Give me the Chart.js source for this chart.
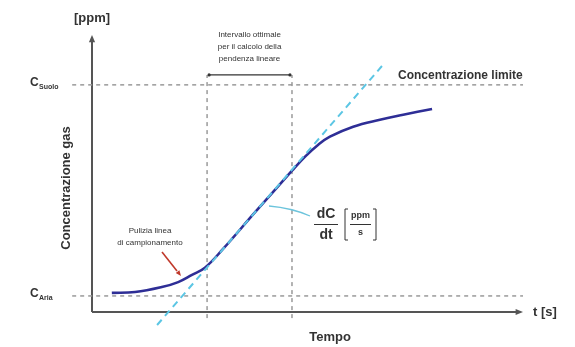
<!DOCTYPE html>
<html>
<head>
<meta charset="utf-8">
<script src="https://cdn.jsdelivr.net/npm/chart.js@4/dist/chart.umd.min.js"></script>
<style>
  html, body { margin: 0; padding: 0; background: #fff; }
  #wrap { width: 575px; height: 347px; }
</style>
</head>
<body>
<div id="wrap"><canvas id="c" width="575" height="347"></canvas></div>
<script>
// Gas concentration over time (arbitrary units)
const timeValues = [4.6, 10.0, 16.2, 20.0, 23.2, 26.2, 30.2, 38.0, 46.4, 49.5, 52.5, 55.2, 60.6, 66.8, 72.2, 78.9];
const concValues = [6.9, 7.2, 9.0, 10.8, 13.4, 16.0, 22.4, 36.3, 51.0, 56.2, 60.4, 63.3, 66.9, 69.4, 71.2, 73.3];

// Linear slope fitted over the optimal window
const tangentX = [15.1, 67.5];
const tangentY = [-4.7, 89.2];

// Reference levels
const cAria = 5.8;
const cSuolo = 82;
const levelRange = [-4.6, 100];

// Optimal window for slope calculation
const windowStart = 26.7;
const windowEnd = 46.4;
const windowSpan = [-2.2, 85.6];
const windowBracket = 85.6;

const FONT = "'Liberation Sans', Arial, Helvetica, sans-serif";

const pts = (xs, ys) => xs.map((x, i) => ({ x, y: ys[i] }));

function arrowHead(ctx, x1, y1, x2, y2, size) {
  const a = Math.atan2(y2 - y1, x2 - x1);
  ctx.beginPath();
  ctx.moveTo(x2, y2);
  ctx.lineTo(x2 - size * Math.cos(a - 0.4), y2 - size * Math.sin(a - 0.4));
  ctx.lineTo(x2 - size * Math.cos(a + 0.4), y2 - size * Math.sin(a + 0.4));
  ctx.closePath();
  ctx.fill();
}

const decorations = {
  id: 'decorations',
  beforeDatasetsDraw(chart) {
    const { ctx, chartArea: ca } = chart;
    ctx.save();
    // axes with arrows
    ctx.strokeStyle = '#555';
    ctx.fillStyle = '#555';
    ctx.lineWidth = 2;
    ctx.beginPath();
    ctx.moveTo(ca.left, ca.bottom);
    ctx.lineTo(ca.left, ca.top + 6);
    ctx.moveTo(ca.left, ca.bottom);
    ctx.lineTo(ca.right - 6, ca.bottom);
    ctx.stroke();
    arrowHead(ctx, ca.left, ca.bottom, ca.left, ca.top, 8);
    arrowHead(ctx, ca.left, ca.bottom, ca.right, ca.bottom, 8);
    ctx.restore();
  },
  afterDatasetsDraw(chart) {
    const { ctx, chartArea: ca, scales: { x, y } } = chart;
    ctx.save();
    ctx.fillStyle = '#333';
    ctx.textBaseline = 'middle';

    // axis titles
    ctx.font = 'bold 13px ' + FONT;
    ctx.textAlign = 'center';
    ctx.fillText('[ppm]', ca.left, 18);
    ctx.textAlign = 'left';
    ctx.fillText('t [s]', ca.right + 10, ca.bottom);
    ctx.textAlign = 'center';
    ctx.fillText('Tempo', 330, 337);
    ctx.save();
    ctx.translate(66, 188);
    ctx.rotate(-Math.PI / 2);
    ctx.fillText('Concentrazione gas', 0, 0);
    ctx.restore();

    // level labels
    const levelLabel = (sub, val) => {
      const py = y.getPixelForValue(val);
      ctx.textAlign = 'left';
      ctx.font = 'bold 12px ' + FONT;
      ctx.fillText('C', 30, py - 2);
      ctx.font = 'bold 7px ' + FONT;
      ctx.fillText(sub, 39, py + 2);
    };
    levelLabel('Suolo', cSuolo);
    levelLabel('Aria', cAria);

    ctx.font = 'bold 12px ' + FONT;
    ctx.textAlign = 'left';
    ctx.fillText('Concentrazione limite', 398, 76);

    // optimal window bracket
    const bx1 = x.getPixelForValue(windowStart);
    const bx2 = x.getPixelForValue(windowEnd);
    const by = y.getPixelForValue(windowBracket);
    ctx.strokeStyle = '#333';
    ctx.lineWidth = 1.2;
    ctx.beginPath();
    ctx.moveTo(bx1 + 2, by);
    ctx.lineTo(bx2 - 2, by);
    ctx.stroke();
    ctx.beginPath(); ctx.arc(bx1 + 2, by, 1.6, 0, Math.PI * 2); ctx.fill();
    ctx.beginPath(); ctx.arc(bx2 - 2, by, 1.6, 0, Math.PI * 2); ctx.fill();
    ctx.font = '8px ' + FONT;
    ctx.textAlign = 'center';
    const cx = (bx1 + bx2) / 2;
    ctx.fillText('Intervallo ottimale', cx, 35);
    ctx.fillText('per il calcolo della', cx, 47);
    ctx.fillText('pendenza lineare', cx, 59);

    // purge note with red arrow
    ctx.fillText('Pulizia linea', 150, 231);
    ctx.fillText('di campionamento', 150, 243);
    ctx.strokeStyle = '#c0392b';
    ctx.fillStyle = '#c0392b';
    ctx.lineWidth = 1.6;
    ctx.beginPath();
    ctx.moveTo(162, 252);
    ctx.lineTo(177, 271);
    ctx.stroke();
    arrowHead(ctx, 162, 252, 181, 276, 6);

    // slope leader and label
    ctx.strokeStyle = '#6cc4dc';
    ctx.lineWidth = 1.3;
    ctx.beginPath();
    ctx.moveTo(269, 206);
    ctx.quadraticCurveTo(292, 208, 310, 216);
    ctx.stroke();

    ctx.fillStyle = '#333';
    ctx.strokeStyle = '#333';
    ctx.font = 'bold 14px ' + FONT;
    ctx.textAlign = 'center';
    ctx.fillText('dC', 326, 214);
    ctx.fillText('dt', 326, 235);
    ctx.lineWidth = 1;
    ctx.beginPath();
    ctx.moveTo(314, 224.5);
    ctx.lineTo(338, 224.5);
    ctx.stroke();
    // bracket with ppm/s
    ctx.beginPath();
    ctx.moveTo(348, 209); ctx.lineTo(345, 209); ctx.lineTo(345, 240); ctx.lineTo(348, 240);
    ctx.moveTo(373, 209); ctx.lineTo(376, 209); ctx.lineTo(376, 240); ctx.lineTo(373, 240);
    ctx.moveTo(350, 224.5); ctx.lineTo(371, 224.5);
    ctx.stroke();
    ctx.font = 'bold 9px ' + FONT;
    ctx.fillText('ppm', 360.5, 216);
    ctx.fillText('s', 360.5, 233);
    ctx.restore();
  }
};

const grey = '#9a9a9a';
const dashedRef = (data) => ({
  data, borderColor: grey, borderWidth: 1.5, borderDash: [4, 4],
  pointRadius: 0, fill: false, clip: false, order: 3, tension: 0
});

new Chart(document.getElementById('c'), {
  type: 'line',
  data: {
    datasets: [
      dashedRef(pts(levelRange, [cSuolo, cSuolo])),
      dashedRef(pts(levelRange, [cAria, cAria])),
      dashedRef(pts([windowStart, windowStart], windowSpan)),
      dashedRef(pts([windowEnd, windowEnd], windowSpan)),
      {
        label: 'Concentrazione',
        data: pts(timeValues, concValues),
        borderColor: '#2e2e96',
        borderWidth: 2.6,
        pointRadius: 0,
        fill: false,
        tension: 0.4,
        order: 2
      },
      {
        label: 'Pendenza',
        data: pts(tangentX, tangentY),
        borderColor: '#5cc6e4',
        borderWidth: 2,
        borderDash: [7, 5],
        pointRadius: 0,
        fill: false,
        clip: false,
        order: 1
      }
    ]
  },
  options: {
    responsive: false,
    animation: false,
    events: [],
    layout: { padding: { left: 92, right: 52, top: 35, bottom: 35 } },
    plugins: { legend: { display: false }, tooltip: { enabled: false } },
    scales: {
      x: { type: 'linear', min: 0, max: 100, display: false },
      y: { type: 'linear', min: 0, max: 100, display: false }
    }
  },
  plugins: [decorations]
});
</script>
</body>
</html>
